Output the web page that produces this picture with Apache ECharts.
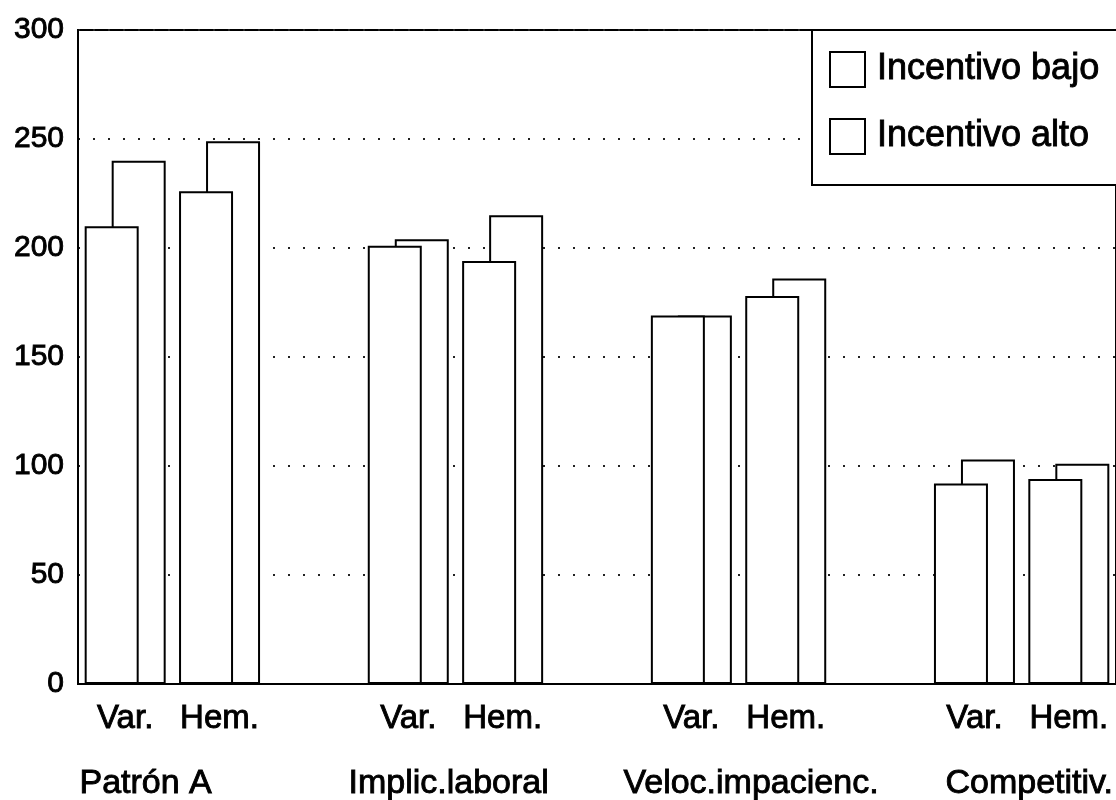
<!DOCTYPE html>
<html>
<head>
<meta charset="utf-8">
<style>
  html, body { margin: 0; padding: 0; background: #fff; }
  #chart { width: 1116px; height: 800px; }
</style>
<script src="https://cdn.jsdelivr.net/npm/echarts@6/dist/echarts.min.js"></script>
</head>
<body>
<div id="chart"></div>
<script>
  // values
  const groups = ['Patrón A', 'Implic.laboral', 'Veloc.impacienc.', 'Competitiv.']
  const subLabels = ['Var.', 'Hem.']
  const bajo = [210, 226, 201, 194, 169, 178, 92, 94]
  const alto = [240, 249, 204, 215, 169, 186, 103, 101]
  const yTicks = { min: 0, max: 300, step: 50 }

  // one blank category between groups
  const categories = []
  const bajoData = []
  const altoData = []
  groups.forEach((g, i) => {
    subLabels.forEach((s, j) => {
      categories.push(s)
      bajoData.push(bajo[i * 2 + j])
      altoData.push(alto[i * 2 + j])
    })
    if (i < groups.length - 1) {
      categories.push('')
      bajoData.push('-')
      altoData.push('-')
    }
  })

  const font = '"Liberation Sans", Arial, Helvetica, sans-serif'
  const groupLeft = [79, 348, 623, 945]
  // thicken strokes a little, the scan is heavy
  const ink = { textBorderColor: '#000', textBorderWidth: 0.9 }

  const chart = echarts.init(document.getElementById('chart'))
  chart.setOption({
    animation: false,
    backgroundColor: '#fff',
    textStyle: { fontFamily: font, color: '#000' },
    grid: {
      left: 78,
      top: 30,
      width: 1042,
      bottom: 116,
      show: true,
      borderColor: '#000',
      borderWidth: 2,
      backgroundColor: 'transparent'
    },
    legend: {
      orient: 'vertical',
      left: 812,
      top: 30,
      padding: [21, 40, 30, 17],
      itemWidth: 35,
      itemHeight: 35,
      itemGap: 30,
      icon: 'rect',
      backgroundColor: '#fff',
      borderColor: '#000',
      borderWidth: 2,
      borderRadius: 0,
      textStyle: Object.assign({ fontSize: 36, color: '#000', fontFamily: font, padding: [0, 0, 0, 7] }, ink),
      itemStyle: { color: '#fff', borderColor: '#000', borderWidth: 2 },
      data: ['Incentivo bajo', 'Incentivo alto']
    },
    xAxis: {
      type: 'category',
      data: categories,
      axisLine: { lineStyle: { color: '#000', width: 2 } },
      axisTick: { show: false },
      axisLabel: Object.assign({
        interval: 0,
        fontSize: 33,
        color: '#000',
        fontFamily: font,
        margin: 18
      }, ink)
    },
    yAxis: {
      type: 'value',
      min: yTicks.min,
      max: yTicks.max,
      interval: yTicks.step,
      axisLine: { show: true, lineStyle: { color: '#000', width: 2 } },
      axisTick: { show: false },
      axisLabel: Object.assign({ fontSize: 30, color: '#000', fontFamily: font, margin: 14 }, ink),
      splitLine: {
        lineStyle: { color: '#222', width: 2, type: [2, 13] }
      }
    },
    series: [
      {
        name: 'Incentivo bajo',
        type: 'bar',
        data: bajoData,
        barWidth: 54,
        barGap: '-50%',
        z: 3,
        itemStyle: { color: '#fff', borderColor: '#000', borderWidth: 2 }
      },
      {
        name: 'Incentivo alto',
        type: 'bar',
        data: altoData,
        barWidth: 54,
        barGap: '-50%',
        z: 2,
        itemStyle: { color: '#fff', borderColor: '#000', borderWidth: 2 }
      }
    ],
    graphic: groups.map((g, i) => ({
      type: 'text',
      left: groupLeft[i],
      top: 766,
      style: { text: g, fill: '#000', font: '34px ' + font, stroke: '#000', lineWidth: 0.9 }
    }))
  })
</script>
</body>
</html>
